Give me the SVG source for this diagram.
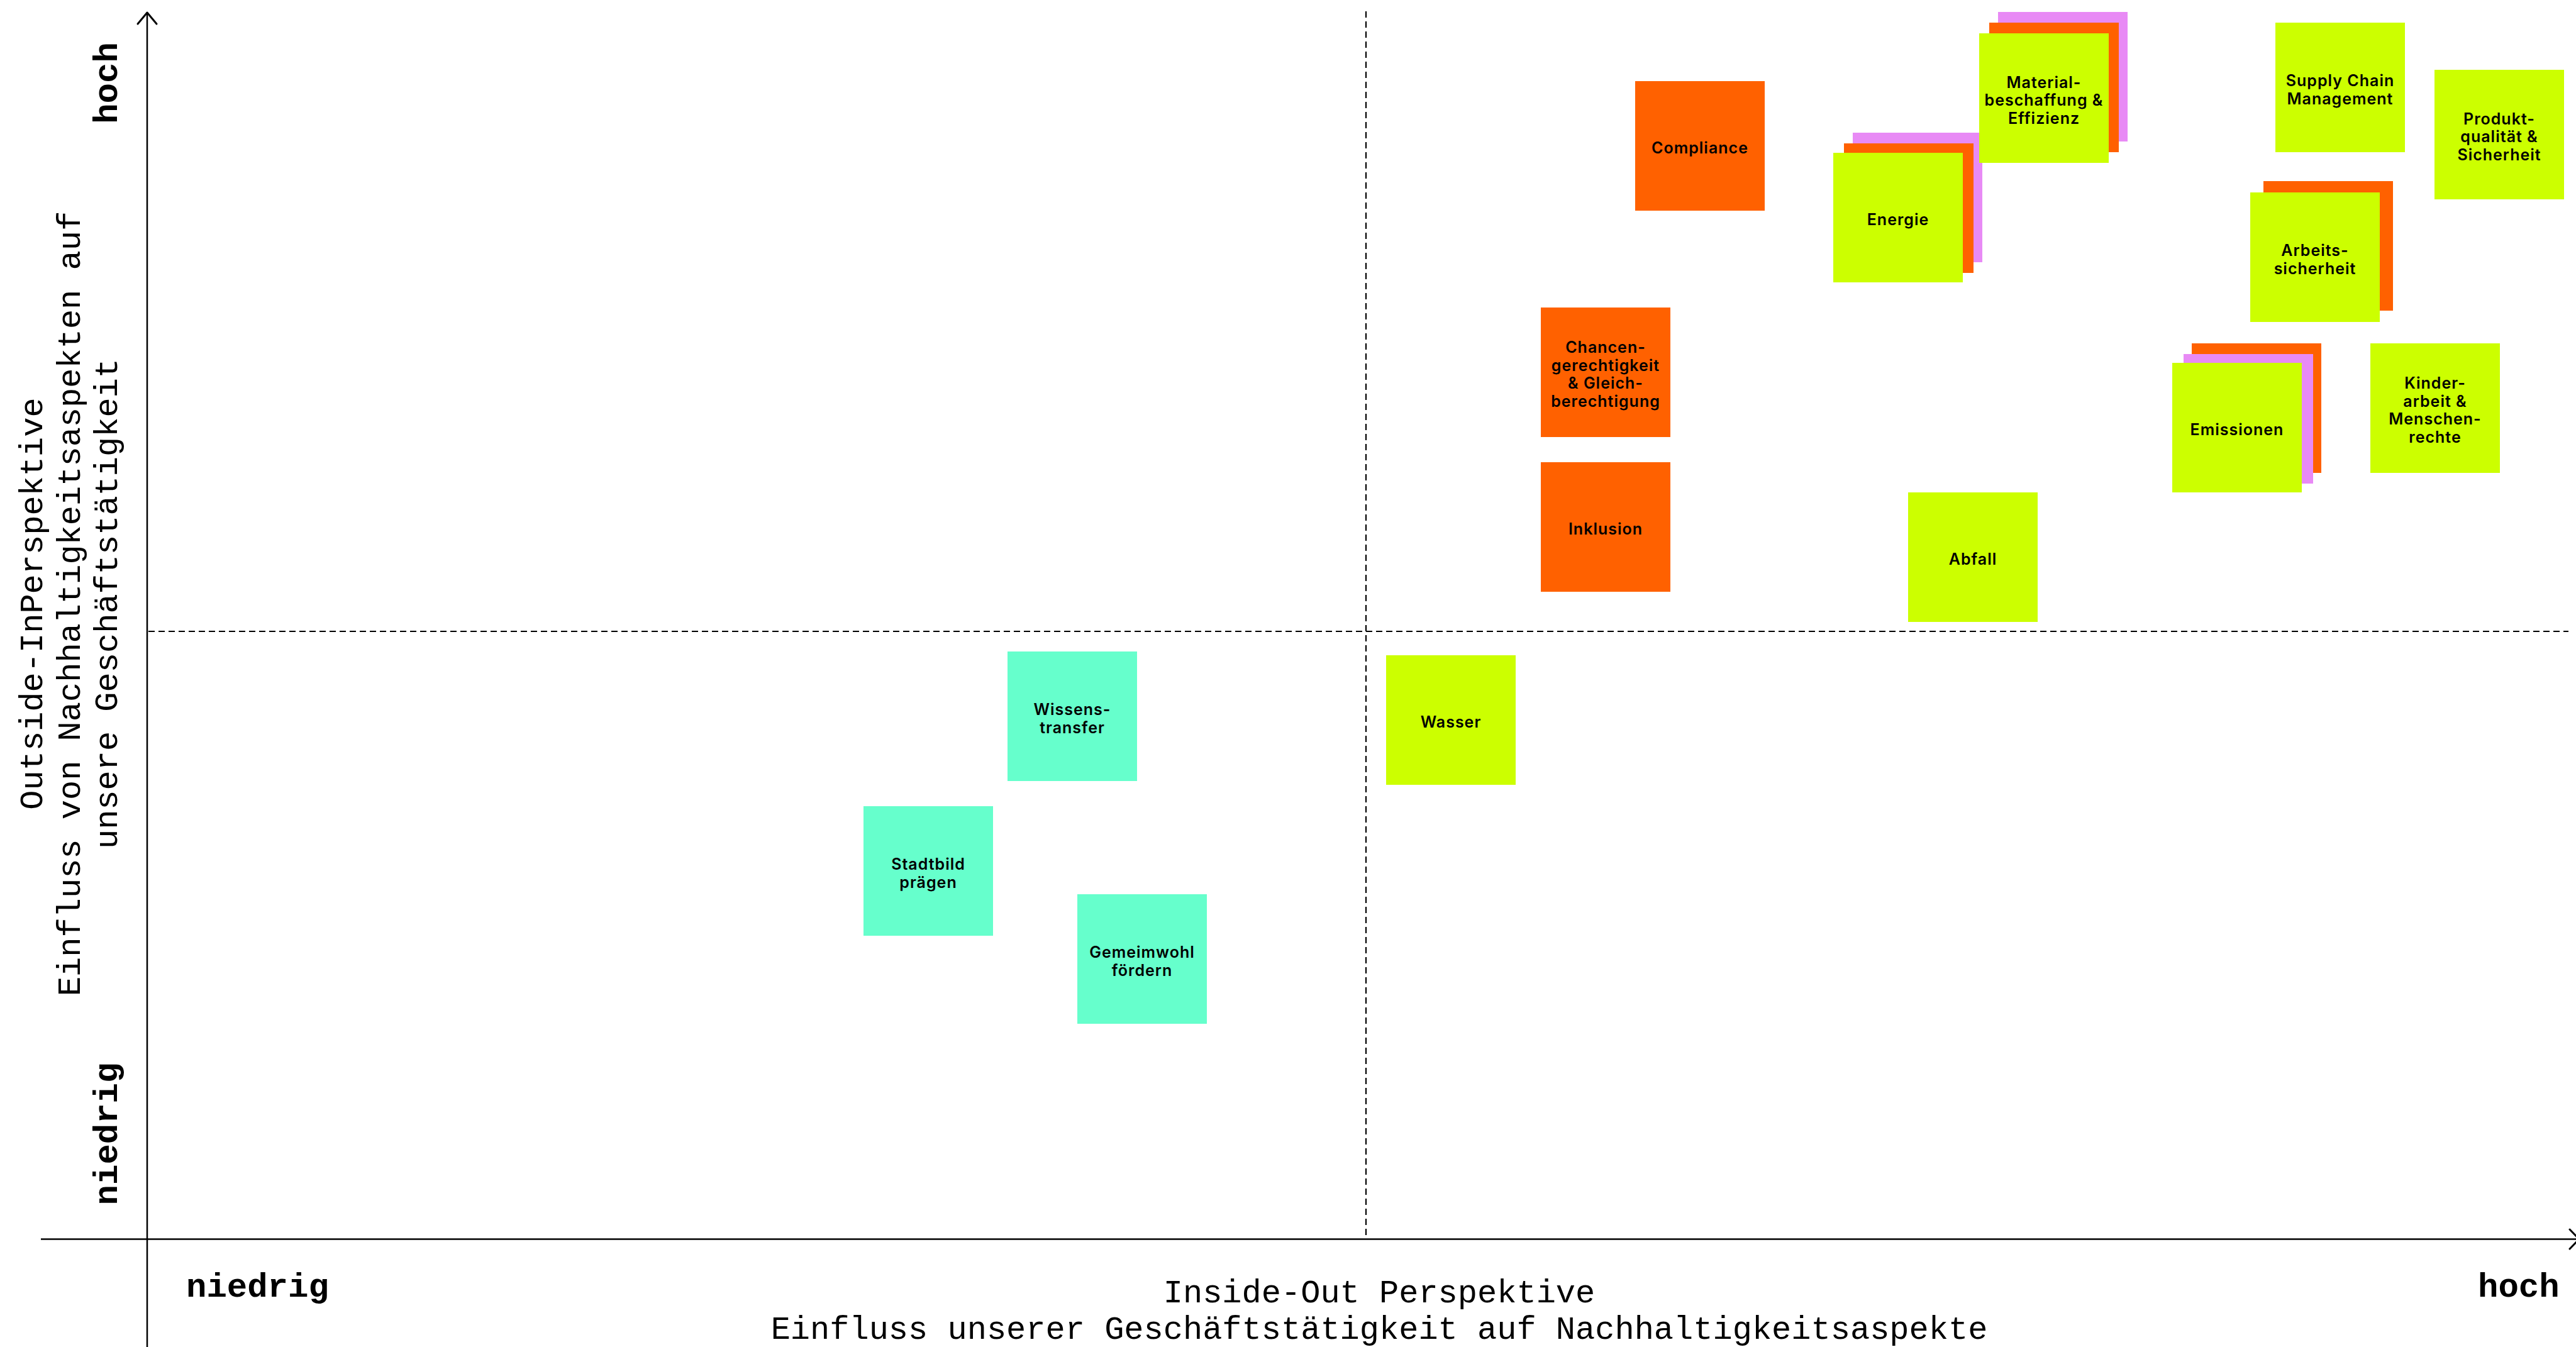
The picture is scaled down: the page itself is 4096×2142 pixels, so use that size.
<svg xmlns="http://www.w3.org/2000/svg" width="4096" height="2142" viewBox="0 0 4096 2142">
  <style>
    .lime { fill: #CCFF00; }
    .orange { fill: #FF6100; }
    .pink { fill: #E88AF5; }
    .mint { fill: #66FFCC; }
    .note { font-family: "Inter", "Noto Sans", "Liberation Sans", sans-serif; font-weight: 600; font-size: 25px; letter-spacing: 1px; fill: #000; text-anchor: middle; }
    .axis { stroke: #000; stroke-width: 2.5; fill: none; }
    .head { stroke: #000; stroke-width: 3; fill: none; stroke-linecap: round; stroke-linejoin: round; }
    .grid { stroke: #000; stroke-width: 2.2; stroke-dasharray: 10 6; fill: none; }
    .title { font-family: "Liberation Mono", "DejaVu Sans Mono", monospace; font-size: 52px; fill: #000; text-anchor: middle; }
    .level { font-family: "Liberation Mono", "DejaVu Sans Mono", monospace; font-size: 54px; font-weight: bold; fill: #000; }
  </style>
  <rect width="4096" height="2142" fill="#FFFFFF"/>

  <!-- axes, quadrant dividers -->
  <g id="connectors">
    <line class="grid" x1="2172" y1="18" x2="2172" y2="1970"/>
    <line class="grid" x1="236" y1="1004" x2="4084" y2="1004"/>
    <line class="axis" x1="234" y1="20" x2="234" y2="2142"/>
    <polyline class="head" points="219,38 234,20 249,38"/>
    <line class="axis" x1="65" y1="1970.5" x2="4100" y2="1970.5"/>
    <polyline class="head" points="4086,1955 4101,1970.5 4086,1986"/>
  </g>

  <!-- axis labels -->
  <g id="y-axis-labels">
    <text class="level" text-anchor="middle" transform="translate(186,132) rotate(-90)">hoch</text>
    <text class="level" text-anchor="middle" transform="translate(186,1803) rotate(-90)">niedrig</text>
    <text class="title" transform="translate(67,960) rotate(-90)">Outside-InPerspektive</text>
    <text class="title" transform="translate(127,960) rotate(-90)">Einfluss von Nachhaltigkeitsaspekten auf</text>
    <text class="title" transform="translate(186,960) rotate(-90)">unsere Geschäftstätigkeit</text>
  </g>
  <g id="x-axis-labels">
    <text class="level" x="296" y="2062">niedrig</text>
    <text class="level" x="3940" y="2062">hoch</text>
    <text class="title" x="2193" y="2071">Inside-Out Perspektive</text>
    <text class="title" x="2193" y="2129">Einfluss unserer Geschäftstätigkeit auf Nachhaltigkeitsaspekte</text>
  </g>

  <!-- topic notes -->
  <g id="compliance">
    <rect class="orange" x="2600" y="129" width="206" height="206"/>
    <text class="note" x="2703" y="244">Compliance</text>
  </g>
  <g id="chancengerechtigkeit">
    <rect class="orange" x="2450" y="489" width="206" height="206"/>
    <text class="note" x="2553" y="561">Chancen-<tspan x="2553" dy="28.5">gerechtigkeit</tspan><tspan x="2553" dy="28.5">&amp; Gleich-</tspan><tspan x="2553" dy="28.5">berechtigung</tspan></text>
  </g>
  <g id="inklusion">
    <rect class="orange" x="2450" y="735" width="206" height="206"/>
    <text class="note" x="2553" y="850">Inklusion</text>
  </g>
  <g id="energie">
    <rect class="pink" x="2946" y="211" width="206" height="206"/>
    <rect class="orange" x="2932" y="228" width="206" height="206"/>
    <rect class="lime" x="2915" y="243" width="206" height="206"/>
    <text class="note" x="3018" y="358">Energie</text>
  </g>
  <g id="materialbeschaffung">
    <rect class="pink" x="3177" y="19" width="206" height="206"/>
    <rect class="orange" x="3163" y="36" width="206" height="206"/>
    <rect class="lime" x="3147" y="53" width="206" height="206"/>
    <text class="note" x="3250" y="139.5">Material-<tspan x="3250" dy="28.5">beschaffung &amp;</tspan><tspan x="3250" dy="28.5">Effizienz</tspan></text>
  </g>
  <g id="supply-chain">
    <rect class="lime" x="3618" y="36" width="206" height="206"/>
    <text class="note" x="3721" y="137">Supply Chain<tspan x="3721" dy="28.5">Management</tspan></text>
  </g>
  <g id="produktqualitaet">
    <rect class="lime" x="3871" y="111" width="206" height="206"/>
    <text class="note" x="3974" y="197.5">Produkt-<tspan x="3974" dy="28.5">qualität &amp;</tspan><tspan x="3974" dy="28.5">Sicherheit</tspan></text>
  </g>
  <g id="arbeitssicherheit">
    <rect class="orange" x="3599" y="288" width="206" height="206"/>
    <rect class="lime" x="3578" y="306" width="206" height="206"/>
    <text class="note" x="3681" y="407">Arbeits-<tspan x="3681" dy="28.5">sicherheit</tspan></text>
  </g>
  <g id="emissionen">
    <rect class="orange" x="3485" y="546" width="206" height="206"/>
    <rect class="pink" x="3472" y="563" width="206" height="206"/>
    <rect class="lime" x="3454" y="577" width="206" height="206"/>
    <text class="note" x="3557" y="692">Emissionen</text>
  </g>
  <g id="kinderarbeit">
    <rect class="lime" x="3769" y="546" width="206" height="206"/>
    <text class="note" x="3872" y="618">Kinder-<tspan x="3872" dy="28.5">arbeit &amp;</tspan><tspan x="3872" dy="28.5">Menschen-</tspan><tspan x="3872" dy="28.5">rechte</tspan></text>
  </g>
  <g id="abfall">
    <rect class="lime" x="3034" y="783" width="206" height="206"/>
    <text class="note" x="3137" y="898">Abfall</text>
  </g>
  <g id="wasser">
    <rect class="lime" x="2204" y="1042" width="206" height="206"/>
    <text class="note" x="2307" y="1157">Wasser</text>
  </g>
  <g id="wissenstransfer">
    <rect class="mint" x="1602" y="1036" width="206" height="206"/>
    <text class="note" x="1705" y="1137">Wissens-<tspan x="1705" dy="28.5">transfer</tspan></text>
  </g>
  <g id="stadtbild">
    <rect class="mint" x="1373" y="1282" width="206" height="206"/>
    <text class="note" x="1476" y="1383">Stadtbild<tspan x="1476" dy="28.5">prägen</tspan></text>
  </g>
  <g id="gemeinwohl">
    <rect class="mint" x="1713" y="1422" width="206" height="206"/>
    <text class="note" x="1816" y="1523">Gemeimwohl<tspan x="1816" dy="28.5">fördern</tspan></text>
  </g>
</svg>
